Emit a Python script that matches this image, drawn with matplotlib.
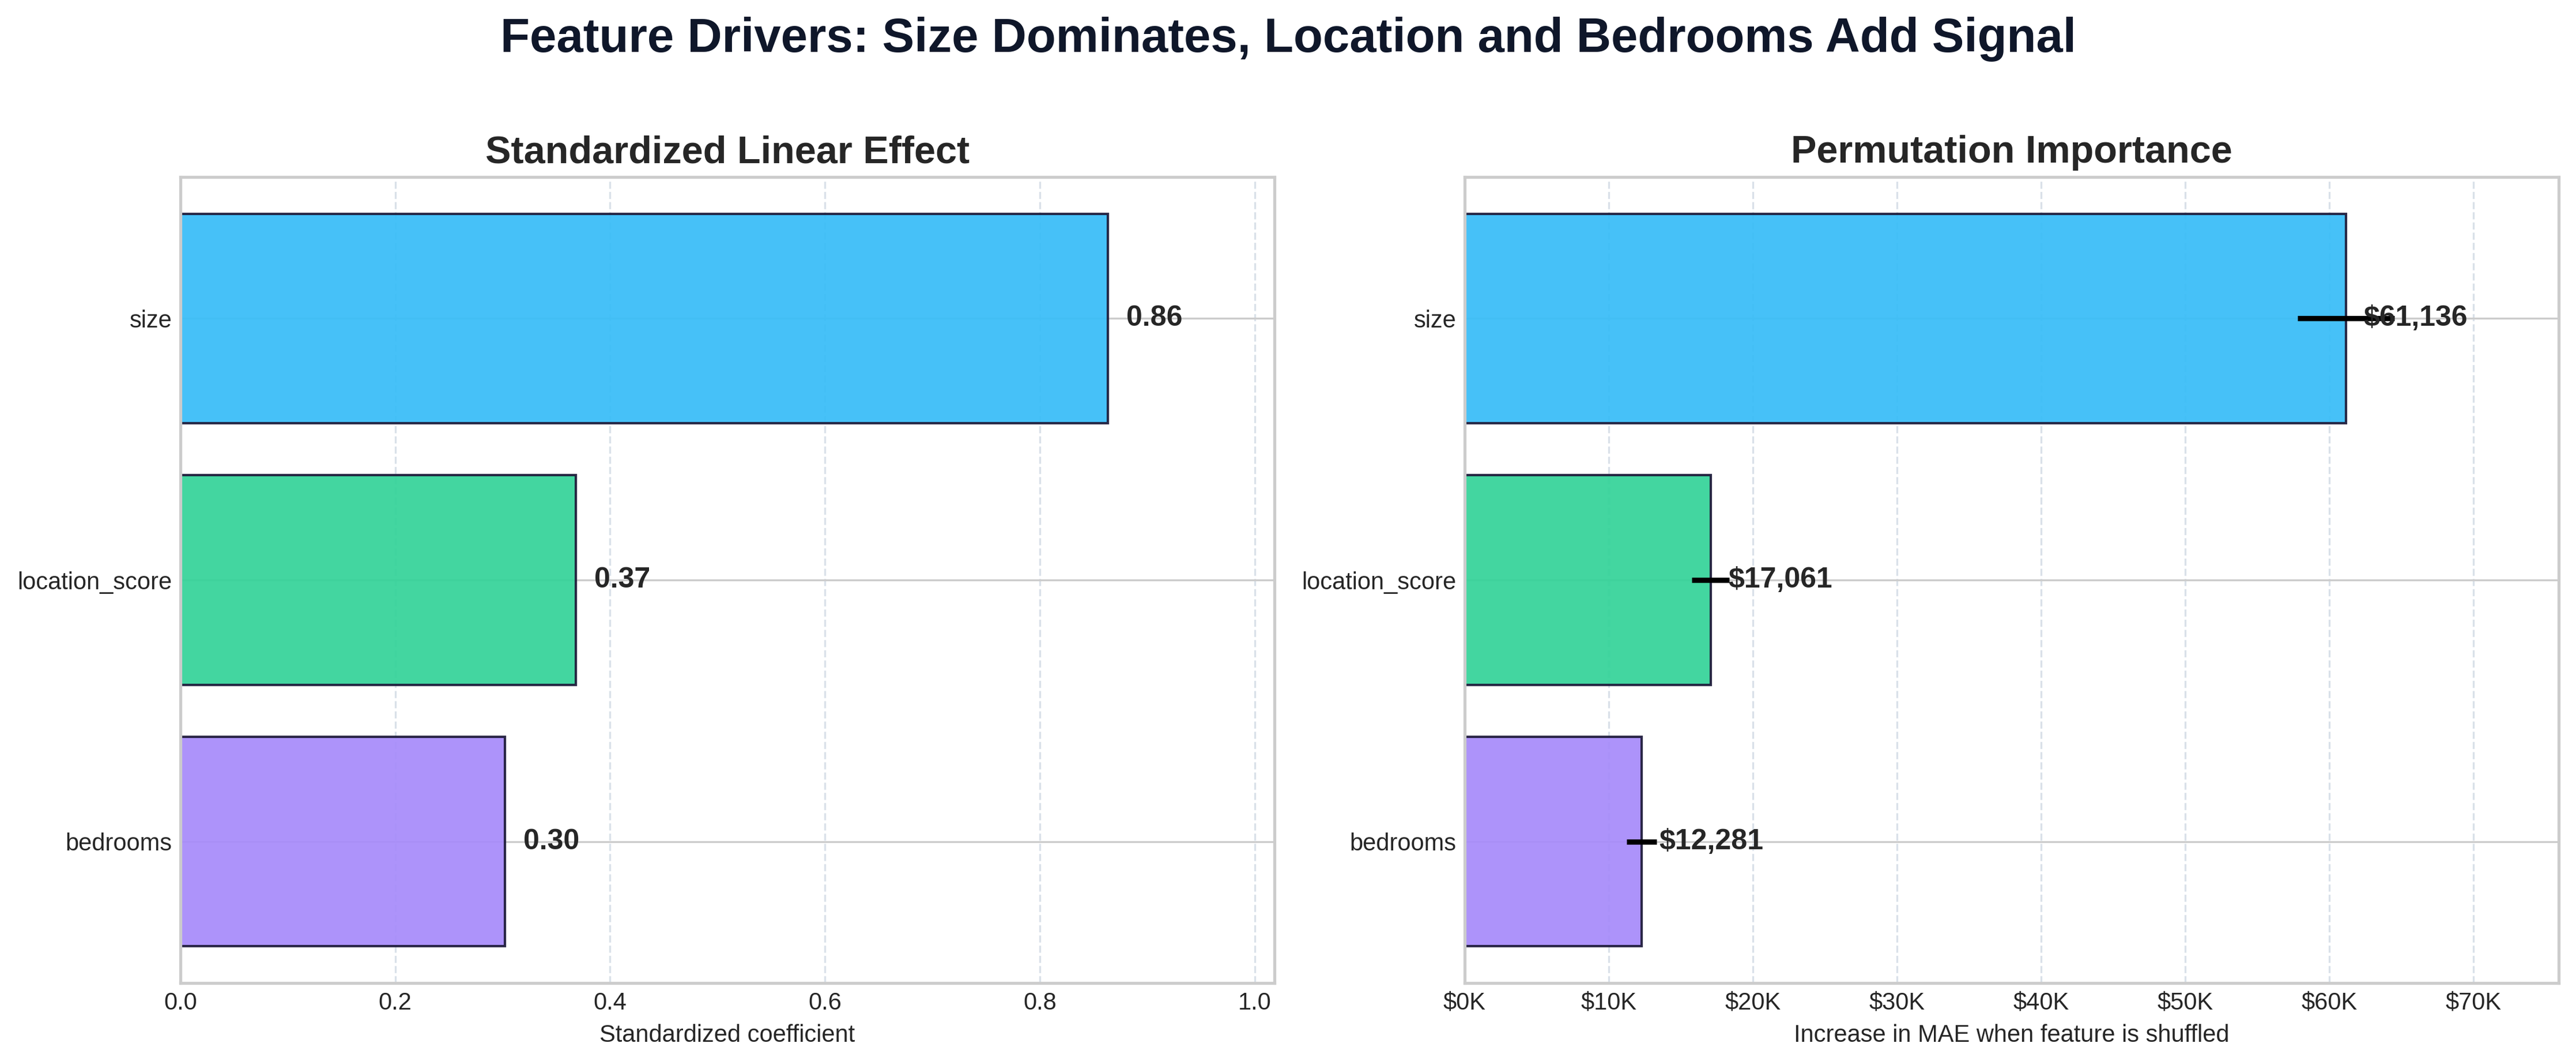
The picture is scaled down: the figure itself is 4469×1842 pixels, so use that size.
import matplotlib
matplotlib.use("Agg")
import matplotlib.pyplot as plt
from matplotlib.ticker import FuncFormatter

# Data, bottom to top
features = ['bedrooms', 'location_score', 'size']
coefs = [0.302, 0.368, 0.863]
perm_means = [12281, 17061, 61136]
perm_stds = [1050, 1300, 3350]
colors = ['#a78bfa', '#34d399', '#38bdf8']

plt.style.use('seaborn-v0_8-whitegrid')
plt.rcParams['font.family'] = ['Liberation Sans', 'DejaVu Sans']
plt.rcParams['font.size'] = 10

fig, (ax1, ax2) = plt.subplots(1, 2, figsize=(4469 / 300, 1842 / 300), dpi=300)
fig.subplots_adjust(left=0.070, right=0.9933, top=0.8333, bottom=0.0744, wspace=0.1737)

# Left: standardized coefficients
ax1.barh(features, coefs, color=colors, alpha=0.93, edgecolor='#1e1b3a', linewidth=1.0,
         height=0.8, zorder=2)
for i, v in enumerate(coefs):
    ax1.text(v + max(coefs) * 0.02, i, f'{v:.2f}', va='center', ha='left',
             fontsize=12, fontweight='bold', color='#262626', zorder=4)
ax1.set_xlim(0, max(coefs) * 1.18)
ax1.set_title('Standardized Linear Effect', fontsize=16, fontweight='bold', color='#262626')
ax1.set_xlabel('Standardized coefficient', fontsize=10)

# Right: permutation importance
ax2.barh(features, perm_means, color=colors, alpha=0.93, edgecolor='#1e1b3a', linewidth=1.0,
         height=0.8, zorder=2)
ax2.errorbar(perm_means, range(len(features)), xerr=perm_stds, fmt='none',
             ecolor='black', elinewidth=2.2, capsize=0, zorder=3)
for i, v in enumerate(perm_means):
    ax2.text(v + max(perm_means) * 0.02, i, f'${v:,.0f}', va='center', ha='left',
             fontsize=12, fontweight='bold', color='#262626', zorder=4)
ax2.set_xlim(0, 75900)
ax2.xaxis.set_major_formatter(FuncFormatter(lambda x, _: f'${x / 1000:.0f}K'))
ax2.set_title('Permutation Importance', fontsize=16, fontweight='bold', color='#262626')
ax2.set_xlabel('Increase in MAE when feature is shuffled', fontsize=10)

for ax in (ax1, ax2):
    ax.set_axisbelow(True)
    ax.grid(axis='x', linestyle='--', color='#cbd5e1', alpha=0.7, linewidth=0.8)
    ax.grid(axis='y', color='#cccccc', linewidth=0.8)
    ax.tick_params(labelsize=10, colors='#262626')
    for s in ax.spines.values():
        s.set_color('#cccccc')
        s.set_linewidth(1.25)

fig.suptitle('Feature Drivers: Size Dominates, Location and Bedrooms Add Signal',
             fontsize=20, fontweight='bold', color='#0f172a', y=1 - 90 / 1842, va='baseline')

fig.savefig('out.png', dpi=300)
